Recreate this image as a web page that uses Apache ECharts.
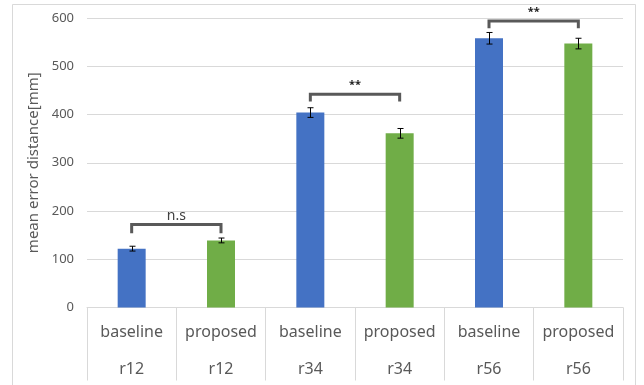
<!DOCTYPE html>
<html>
<head>
<meta charset="utf-8">
<script src="https://cdn.jsdelivr.net/npm/echarts@6/dist/echarts.min.js"></script>
<style>
  html, body { margin: 0; padding: 0; background: #fff; }
  #chart { width: 644px; height: 385px; }
</style>
</head>
<body>
<div id="chart"></div>
<script>
// Methods and the recording groups they were run on
const methods = ['baseline', 'proposed', 'baseline', 'proposed', 'baseline', 'proposed'];
const groups = ['r12', 'r12', 'r34', 'r34', 'r56', 'r56'];
// Mean error distance [mm] and its error margin
const meanError = [122, 139, 404, 361, 558, 547];
const errMargin = [5, 5, 10, 10, 12, 11];
// Y axis ticks
const yMin = 0, yMax = 600, yStep = 100;
// Significance brackets: compared columns, bracket height, leg bottom, label
const bracketFrom = [0, 2, 4];
const bracketTo = [1, 3, 5];
const bracketTop = [172, 442, 594];
const bracketLegEnd = [154, 427, 579];
const bracketLabel = ['n.s', '**', '**'];

const methodColor = { baseline: '#4472C4', proposed: '#70AD47' };
const FONT = '"Noto Sans", "Open Sans", sans-serif';
const TEXT = '#595959';
const GRID = '#d9d9d9';

const categories = methods.map((m, i) => m + '|' + groups[i]);

const chart = echarts.init(document.getElementById('chart'), null, { renderer: 'canvas' });

chart.setOption({
  animation: false,
  backgroundColor: '#fff',
  textStyle: { fontFamily: FONT },
  graphic: [{
    type: 'rect',
    shape: { x: 12.5, y: 4.5, width: 623, height: 420 },
    style: { fill: 'none', stroke: GRID, lineWidth: 1 },
    silent: true
  }],
  grid: { left: 87, right: 21, top: 18, bottom: 77.5 },
  xAxis: {
    type: 'category',
    data: categories,
    boundaryGap: true,
    axisLine: { show: true, lineStyle: { color: GRID, width: 1 } },
    axisTick: { show: true, length: 73, interval: 0, lineStyle: { color: GRID, width: 1 } },
    axisLabel: {
      interval: 0,
      margin: 6,
      formatter: v => {
        const [m, g] = v.split('|');
        return '{a|' + m + '}\n{b|' + g + '}';
      },
      rich: {
        a: { fontFamily: FONT, fontSize: 16, color: TEXT, lineHeight: 37, align: 'center' },
        b: { fontFamily: FONT, fontSize: 16, color: TEXT, lineHeight: 37, align: 'center' }
      }
    }
  },
  yAxis: {
    type: 'value',
    min: yMin, max: yMax, interval: yStep,
    name: 'mean error distance[mm]',
    nameLocation: 'middle',
    nameGap: 25,
    nameTextStyle: { fontFamily: FONT, fontSize: 15, color: TEXT },
    axisLine: { show: false },
    axisTick: { show: false },
    axisLabel: { fontFamily: FONT, fontSize: 13, color: TEXT, margin: 13 },
    splitLine: { lineStyle: { color: GRID, width: 1 } }
  },
  series: [
    {
      type: 'bar',
      barWidth: 28,
      data: meanError.map((v, i) => ({ value: v, itemStyle: { color: methodColor[methods[i]] } })),
      z: 2
    },
    {
      type: 'custom',
      z: 3,
      data: meanError.map((v, i) => [i, v - errMargin[i], v + errMargin[i]]),
      renderItem: (params, api) => {
        const lo = api.coord([api.value(0), api.value(1)]);
        const hi = api.coord([api.value(0), api.value(2)]);
        const x = Math.round(lo[0]) + 0.5;
        const cap = 3;
        const style = { stroke: '#000', lineWidth: 1, fill: 'none' };
        return {
          type: 'group',
          children: [
            { type: 'line', shape: { x1: x, y1: lo[1], x2: x, y2: hi[1] }, style },
            { type: 'line', shape: { x1: x - cap, y1: lo[1], x2: x + cap, y2: lo[1] }, style },
            { type: 'line', shape: { x1: x - cap, y1: hi[1], x2: x + cap, y2: hi[1] }, style }
          ]
        };
      }
    },
    {
      type: 'custom',
      z: 4,
      data: bracketFrom.map((f, i) => [f, bracketTo[i], bracketTop[i], bracketLegEnd[i]]),
      renderItem: (params, api) => {
        const a = api.coord([api.value(0), api.value(2)]);
        const b = api.coord([api.value(1), api.value(2)]);
        const aLeg = api.coord([api.value(0), api.value(3)]);
        const label = bracketLabel[params.dataIndex];
        const isStar = label.indexOf('*') >= 0;
        return {
          type: 'group',
          children: [
            {
              type: 'polyline',
              shape: { points: [[a[0], aLeg[1]], [a[0], a[1]], [b[0], b[1]], [b[0], aLeg[1]]] },
              style: { stroke: '#595959', lineWidth: 3, fill: 'none', lineJoin: 'miter' }
            },
            {
              type: 'text',
              style: {
                text: label,
                x: (a[0] + b[0]) / 2,
                y: a[1] - (isStar ? 9 : 8),
                align: 'center',
                verticalAlign: 'middle',
                fontFamily: FONT,
                fontSize: isStar ? 11 : 14,
                fontWeight: isStar ? 'bold' : 'normal',
                fill: isStar ? '#222' : '#404040'
              }
            }
          ]
        };
      }
    }
  ]
});
</script>
</body>
</html>
